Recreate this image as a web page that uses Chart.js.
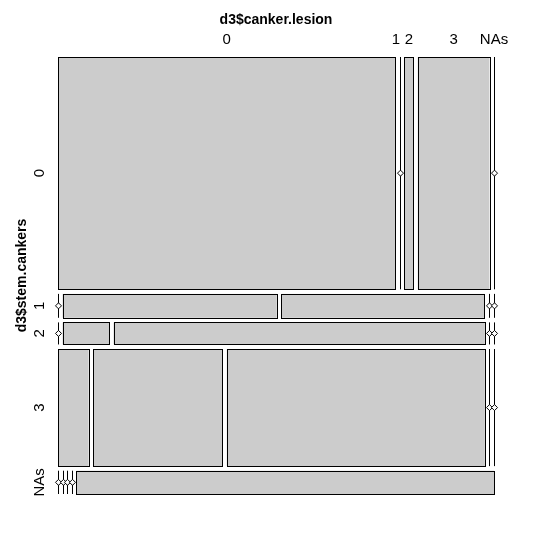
<!DOCTYPE html>
<html><head><meta charset="utf-8">
<script src="https://cdn.jsdelivr.net/npm/chart.js@4"></script>
<style>html,body{margin:0;padding:0;background:#fff}</style>
</head><body>
<canvas id="c" width="553" height="552"></canvas>
<script>
const lesionLabels = ['0','1','2','3','NAs'];
const stemLabels = ['0','1','2','3','NAs'];
const stem0 = [306, 0, 8, 65, 0];
const stem1 = [0, 20, 19, 0, 0];
const stem2 = [0, 4, 32, 0, 0];
const stem3 = [14, 59, 118, 0, 0];
const stemNA = [0, 0, 0, 0, 38];
const rows = [stem0, stem1, stem2, stem3, stemNA];

const gx = 0.0105, gy = 0.0105;
const mosaic = {
  id: 'mosaic',
  afterDatasetsDraw(chart) {
    const ctx = chart.ctx, xs = chart.scales.x, ys = chart.scales.y;
    const N = rows.flat().reduce((a, b) => a + b, 0);
    const availY = 1 - (rows.length - 1) * gy;
    let yTop = 1;
    ctx.save();
    ctx.lineWidth = 1;
    ctx.strokeStyle = '#000';
    const rowCenters = [], colCentersRow0 = [];
    rows.forEach((r, i) => {
      const R = r.reduce((a, b) => a + b, 0);
      const h = R / N * availY;
      const yB = yTop - h;
      const py0 = ys.getPixelForValue(yTop), py1 = ys.getPixelForValue(yB);
      rowCenters.push((py0 + py1) / 2);
      const availX = 1 - (r.length - 1) * gx;
      let x = 0;
      r.forEach((c, j) => {
        const w = c / R * availX;
        const px0 = xs.getPixelForValue(x), px1 = xs.getPixelForValue(x + w);
        if (i === 0) colCentersRow0.push((px0 + px1) / 2);
        if (c > 0) {
          ctx.fillStyle = '#cccccc';
          ctx.fillRect(px0, py0, px1 - px0, py1 - py0);
          ctx.strokeRect(Math.round(px0) + 0.5, Math.round(py0) + 0.5, Math.round(px1 - px0), Math.round(py1 - py0));
        } else {
          const lx = Math.round(px0) + 0.5;
          ctx.beginPath(); ctx.moveTo(lx, py0); ctx.lineTo(lx, py1); ctx.stroke();
          const my = (py0 + py1) / 2;
          ctx.fillStyle = '#fff';
          ctx.beginPath();
          ctx.moveTo(lx - 3, my); ctx.lineTo(lx, my - 3); ctx.lineTo(lx + 3, my); ctx.lineTo(lx, my + 3); ctx.closePath();
          ctx.fill(); ctx.stroke();
        }
        x += w + gx;
      });
      yTop = yB - gy;
    });
    ctx.fillStyle = '#000';
    ctx.textAlign = 'center';
    ctx.textBaseline = 'middle';
    ctx.font = 'bold 14px "Liberation Sans", Arial, sans-serif';
    ctx.fillText('d3$canker.lesion', (chart.chartArea.left + chart.chartArea.right) / 2, 20);
    ctx.font = '15px "Liberation Sans", Arial, sans-serif';
    const cc = colCentersRow0.slice();
    cc[1] -= 4; cc[2] += 0; 
    lesionLabels.forEach((l, j) => ctx.fillText(l, cc[j], 40));
    ctx.save();
    ctx.translate(22, (chart.chartArea.top + chart.chartArea.bottom) / 2);
    ctx.rotate(-Math.PI / 2);
    ctx.font = 'bold 14px "Liberation Sans", Arial, sans-serif';
    ctx.fillText('d3$stem.cankers', 0, 0);
    ctx.restore();
    ctx.font = '15px "Liberation Sans", Arial, sans-serif';
    stemLabels.forEach((l, i) => {
      ctx.save(); ctx.translate(40, rowCenters[i]); ctx.rotate(-Math.PI / 2);
      ctx.fillText(l, 0, 0); ctx.restore();
    });
    ctx.restore();
  }
};

new Chart(document.getElementById('c'), {
  type: 'scatter',
  data: { datasets: [{ data: [] }] },
  options: {
    responsive: false, animation: false,
    layout: { padding: { left: 58, top: 57, right: 59, bottom: 58 } },
    plugins: { legend: { display: false }, tooltip: { enabled: false } },
    scales: {
      x: { type: 'linear', min: 0, max: 1, display: false },
      y: { type: 'linear', min: 0, max: 1, display: false }
    }
  },
  plugins: [mosaic]
});
</script>
</body></html>
